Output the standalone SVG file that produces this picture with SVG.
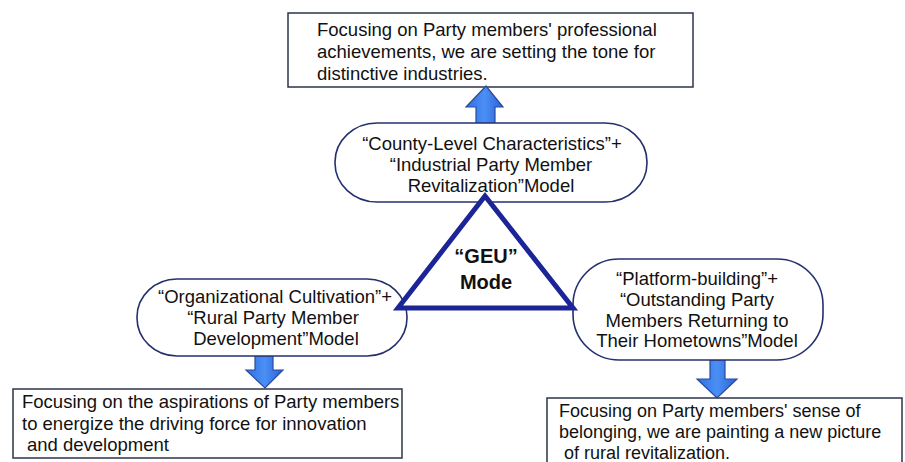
<svg xmlns="http://www.w3.org/2000/svg" width="905" height="462" viewBox="0 0 905 462">
<defs>
<linearGradient id="ag" x1="0" y1="0" x2="1" y2="0">
<stop offset="0" stop-color="#2f6fe6"/>
<stop offset="0.5" stop-color="#4b8ff5"/>
<stop offset="1" stop-color="#2a62d8"/>
</linearGradient>
<style>
.t{font-family:"Liberation Sans",Arial,sans-serif;font-size:18.5px;fill:#111}
.s{font-size:18px}
.c{text-anchor:middle}
.box{fill:#fff;stroke:#2d3448;stroke-width:1.5}
.pill{fill:#fff;stroke:#24306e;stroke-width:1.6}
.arr{fill:url(#ag);stroke:#2a4a9a;stroke-width:1.2}
.tri{fill:#fff;stroke:#1c2596;stroke-width:5;stroke-linejoin:miter}
.b{font-weight:bold;font-size:20px}
</style>
</defs>
<rect width="905" height="462" fill="#fff"/>
<g id="top-box">
<rect class="box" x="288" y="13" width="405" height="74"/>
<text class="t" x="317" y="36">Focusing on Party members' professional</text>
<text class="t" x="317" y="58">achievements, we are setting the tone for</text>
<text class="t" x="317" y="80">distinctive industries.</text>
</g>
<g id="connectors">
<path class="arr" d="M486,86 L503,107 L495,107 L495,126 L476,126 L476,107 L466,107 Z"/>
<path class="arr" d="M255,348 L273,348 L273,370 L283,370 L265,388 L246,370 L255,370 Z"/>
<path class="arr" d="M710,360 L725,360 L725,379 L737,379 L717,398 L697,379 L710,379 Z"/>
</g>
<g id="top-pill">
<rect class="pill" x="335" y="123" width="312" height="79" rx="42" ry="39"/>
<text class="t c" x="492" y="150">“County-Level Characteristics”+</text>
<text class="t c" x="491" y="171">“Industrial Party Member</text>
<text class="t c" x="491" y="192">Revitalization”Model</text>
</g>
<g id="left-pill">
<rect class="pill" x="137" y="279" width="270" height="77" rx="40" ry="38"/>
<text class="t c" x="275" y="303">“Organizational Cultivation”+</text>
<text class="t c" x="273" y="324">“Rural Party Member</text>
<text class="t c" x="276" y="345">Development”Model</text>
</g>
<g id="right-pill">
<rect class="pill" x="573" y="259" width="250" height="101" rx="46" ry="46"/>
<text class="t c" x="697" y="285">“Platform-building”+</text>
<text class="t c" x="697" y="306">“Outstanding Party</text>
<text class="t c" x="697" y="327">Members Returning to</text>
<text class="t c" x="697" y="347">Their Hometowns”Model</text>
</g>
<g id="geu-mode">
<path class="tri" d="M485,196 L573,308 L398,308 Z"/>
<text class="t c b" x="486" y="263">“GEU”</text>
<text class="t c b" x="486" y="289">Mode</text>
</g>
<g id="left-box">
<rect class="box" x="13" y="389" width="389" height="69"/>
<text class="t" x="22" y="408">Focusing on the aspirations of Party members</text>
<text class="t" x="22" y="430">to energize the driving force for innovation</text>
<text class="t" x="27" y="451">and development</text>
</g>
<g id="right-box">
<path class="box" d="M547,470 L547,398 L902,398 L902,470"/>
<text class="t s" x="559" y="417">Focusing on Party members' sense of</text>
<text class="t s" x="559" y="438">belonging, we are painting a new picture</text>
<text class="t s" x="564" y="459">of rural revitalization.</text>
</g>
</svg>
